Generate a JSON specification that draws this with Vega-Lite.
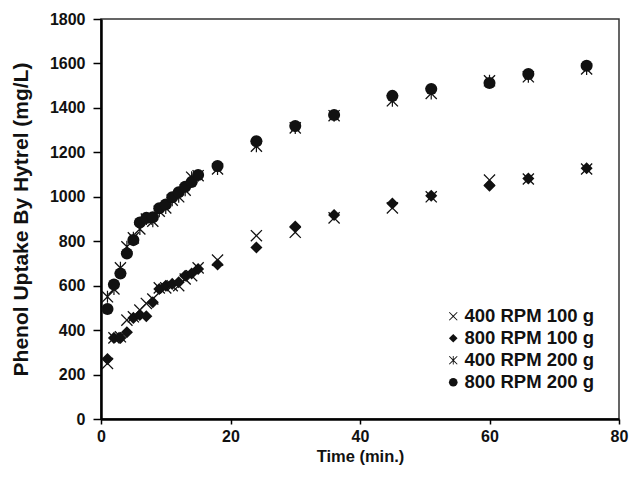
{
  "$schema": "https://vega.github.io/schema/vega-lite/v6.json",
  "autosize": "none",
  "width": 518,
  "height": 400,
  "padding": {"left": 101, "top": 19, "right": 13, "bottom": 62},
  "background": "white",
  "config": {
    "font": "Liberation Sans",
    "view": {"stroke": "#333", "strokeWidth": 1.5},
    "axis": {
      "grid": false,
      "domainColor": "black",
      "domainWidth": 2.5,
      "tickColor": "black",
      "tickWidth": 1.5,
      "labelFont": "Liberation Sans",
      "labelFontWeight": "bold",
      "labelFontSize": 16,
      "labelColor": "#111",
      "titleFont": "Liberation Sans",
      "titleFontWeight": "bold",
      "titleColor": "#111"
    }
  },
  "data": {
    "values": [
      {"series": "400 RPM 100 g", "t": 1, "v": 250},
      {"series": "400 RPM 100 g", "t": 2, "v": 365},
      {"series": "400 RPM 100 g", "t": 3, "v": 370},
      {"series": "400 RPM 100 g", "t": 4, "v": 445},
      {"series": "400 RPM 100 g", "t": 5, "v": 460},
      {"series": "400 RPM 100 g", "t": 6, "v": 490},
      {"series": "400 RPM 100 g", "t": 7, "v": 520},
      {"series": "400 RPM 100 g", "t": 8, "v": 540},
      {"series": "400 RPM 100 g", "t": 9, "v": 590},
      {"series": "400 RPM 100 g", "t": 10, "v": 590},
      {"series": "400 RPM 100 g", "t": 11, "v": 600},
      {"series": "400 RPM 100 g", "t": 12, "v": 600},
      {"series": "400 RPM 100 g", "t": 13, "v": 630},
      {"series": "400 RPM 100 g", "t": 14, "v": 645},
      {"series": "400 RPM 100 g", "t": 15, "v": 680},
      {"series": "400 RPM 100 g", "t": 18, "v": 715},
      {"series": "400 RPM 100 g", "t": 24, "v": 825},
      {"series": "400 RPM 100 g", "t": 30, "v": 840},
      {"series": "400 RPM 100 g", "t": 36, "v": 905},
      {"series": "400 RPM 100 g", "t": 45, "v": 950},
      {"series": "400 RPM 100 g", "t": 51, "v": 1000},
      {"series": "400 RPM 100 g", "t": 60, "v": 1075},
      {"series": "400 RPM 100 g", "t": 66, "v": 1080},
      {"series": "400 RPM 100 g", "t": 75, "v": 1125},
      {"series": "800 RPM 100 g", "t": 1, "v": 270},
      {"series": "800 RPM 100 g", "t": 2, "v": 365},
      {"series": "800 RPM 100 g", "t": 3, "v": 365},
      {"series": "800 RPM 100 g", "t": 4, "v": 390},
      {"series": "800 RPM 100 g", "t": 5, "v": 455},
      {"series": "800 RPM 100 g", "t": 6, "v": 468},
      {"series": "800 RPM 100 g", "t": 7, "v": 462},
      {"series": "800 RPM 100 g", "t": 8, "v": 525},
      {"series": "800 RPM 100 g", "t": 9, "v": 585},
      {"series": "800 RPM 100 g", "t": 10, "v": 600},
      {"series": "800 RPM 100 g", "t": 11, "v": 608},
      {"series": "800 RPM 100 g", "t": 12, "v": 615},
      {"series": "800 RPM 100 g", "t": 13, "v": 645},
      {"series": "800 RPM 100 g", "t": 14, "v": 655},
      {"series": "800 RPM 100 g", "t": 15, "v": 675},
      {"series": "800 RPM 100 g", "t": 18, "v": 695},
      {"series": "800 RPM 100 g", "t": 24, "v": 772},
      {"series": "800 RPM 100 g", "t": 30, "v": 866},
      {"series": "800 RPM 100 g", "t": 36, "v": 918},
      {"series": "800 RPM 100 g", "t": 45, "v": 970},
      {"series": "800 RPM 100 g", "t": 51, "v": 1005},
      {"series": "800 RPM 100 g", "t": 60, "v": 1050},
      {"series": "800 RPM 100 g", "t": 66, "v": 1082},
      {"series": "800 RPM 100 g", "t": 75, "v": 1128},
      {"series": "400 RPM 200 g", "t": 1, "v": 550},
      {"series": "400 RPM 200 g", "t": 2, "v": 585},
      {"series": "400 RPM 200 g", "t": 3, "v": 680},
      {"series": "400 RPM 200 g", "t": 4, "v": 775},
      {"series": "400 RPM 200 g", "t": 5, "v": 815},
      {"series": "400 RPM 200 g", "t": 6, "v": 855},
      {"series": "400 RPM 200 g", "t": 7, "v": 900},
      {"series": "400 RPM 200 g", "t": 8, "v": 890},
      {"series": "400 RPM 200 g", "t": 9, "v": 935},
      {"series": "400 RPM 200 g", "t": 10, "v": 950},
      {"series": "400 RPM 200 g", "t": 11, "v": 985},
      {"series": "400 RPM 200 g", "t": 12, "v": 1000},
      {"series": "400 RPM 200 g", "t": 13, "v": 1030},
      {"series": "400 RPM 200 g", "t": 14, "v": 1088},
      {"series": "400 RPM 200 g", "t": 15, "v": 1095},
      {"series": "400 RPM 200 g", "t": 18, "v": 1125},
      {"series": "400 RPM 200 g", "t": 24, "v": 1228},
      {"series": "400 RPM 200 g", "t": 30, "v": 1310},
      {"series": "400 RPM 200 g", "t": 36, "v": 1365},
      {"series": "400 RPM 200 g", "t": 45, "v": 1432},
      {"series": "400 RPM 200 g", "t": 51, "v": 1465},
      {"series": "400 RPM 200 g", "t": 60, "v": 1522},
      {"series": "400 RPM 200 g", "t": 66, "v": 1540},
      {"series": "400 RPM 200 g", "t": 75, "v": 1575},
      {"series": "800 RPM 200 g", "t": 1, "v": 495},
      {"series": "800 RPM 200 g", "t": 2, "v": 605},
      {"series": "800 RPM 200 g", "t": 3, "v": 655},
      {"series": "800 RPM 200 g", "t": 4, "v": 745},
      {"series": "800 RPM 200 g", "t": 5, "v": 805},
      {"series": "800 RPM 200 g", "t": 6, "v": 884},
      {"series": "800 RPM 200 g", "t": 7, "v": 905},
      {"series": "800 RPM 200 g", "t": 8, "v": 908},
      {"series": "800 RPM 200 g", "t": 9, "v": 948},
      {"series": "800 RPM 200 g", "t": 10, "v": 965},
      {"series": "800 RPM 200 g", "t": 11, "v": 998},
      {"series": "800 RPM 200 g", "t": 12, "v": 1020},
      {"series": "800 RPM 200 g", "t": 13, "v": 1045},
      {"series": "800 RPM 200 g", "t": 14, "v": 1067},
      {"series": "800 RPM 200 g", "t": 15, "v": 1098},
      {"series": "800 RPM 200 g", "t": 18, "v": 1138},
      {"series": "800 RPM 200 g", "t": 24, "v": 1250},
      {"series": "800 RPM 200 g", "t": 30, "v": 1318},
      {"series": "800 RPM 200 g", "t": 36, "v": 1368},
      {"series": "800 RPM 200 g", "t": 45, "v": 1454},
      {"series": "800 RPM 200 g", "t": 51, "v": 1485},
      {"series": "800 RPM 200 g", "t": 60, "v": 1512},
      {"series": "800 RPM 200 g", "t": 66, "v": 1552},
      {"series": "800 RPM 200 g", "t": 75, "v": 1590}
    ]
  },
  "mark": {"type": "point", "filled": true, "fill": "#111", "strokeWidth": 0, "opacity": 1, "size": 145},
  "encoding": {
    "x": {
      "field": "t", "type": "quantitative",
      "scale": {"domain": [0, 80], "nice": false, "zero": true},
      "axis": {"values": [0, 20, 40, 60, 80], "format": "d", "title": "Time (min.)", "titleFontSize": 16.5, "tickSize": 5, "labelPadding": 4, "titlePadding": 4, "labelFlush": false}
    },
    "y": {
      "field": "v", "type": "quantitative",
      "scale": {"domain": [0, 1800], "nice": false},
      "axis": {"values": [0, 200, 400, 600, 800, 1000, 1200, 1400, 1600, 1800], "format": "d", "title": "Phenol Uptake By Hytrel (mg/L)", "titleFontSize": 21, "tickSize": 8, "labelPadding": 8, "titlePadding": 18, "labelFlush": false}
    },
    "shape": {
      "field": "series", "type": "nominal",
      "scale": {
        "domain": ["400 RPM 100 g", "800 RPM 100 g", "400 RPM 200 g", "800 RPM 200 g"],
        "range": [
          "M0,-0.15L0.85,-1L1,-0.85L0.15,0L1,0.85L0.85,1L0,0.15L-0.85,1L-1,0.85L-0.15,0L-1,-0.85L-0.85,-1Z",
          "diamond",
          "M0,-0.15L0.85,-1L1,-0.85L0.15,0L1,0.85L0.85,1L0,0.15L-0.85,1L-1,0.85L-0.15,0L-1,-0.85L-0.85,-1ZM-0.1,-1L0.1,-1L0.1,1L-0.1,1Z",
          "circle"
        ]
      },
      "legend": {
        "title": null,
        "orient": "none",
        "legendX": 343,
        "legendY": 288,
        "labelFont": "Liberation Sans",
        "labelFontWeight": "bold",
        "labelFontSize": 18.5,
        "labelColor": "#111",
        "symbolSize": 75,
        "symbolFillColor": "#111",
        "symbolStrokeWidth": 0,
        "rowPadding": 3,
        "labelOffset": 2
      }
    },
    "order": {"field": "series", "sort": "ascending"}
  }
}
